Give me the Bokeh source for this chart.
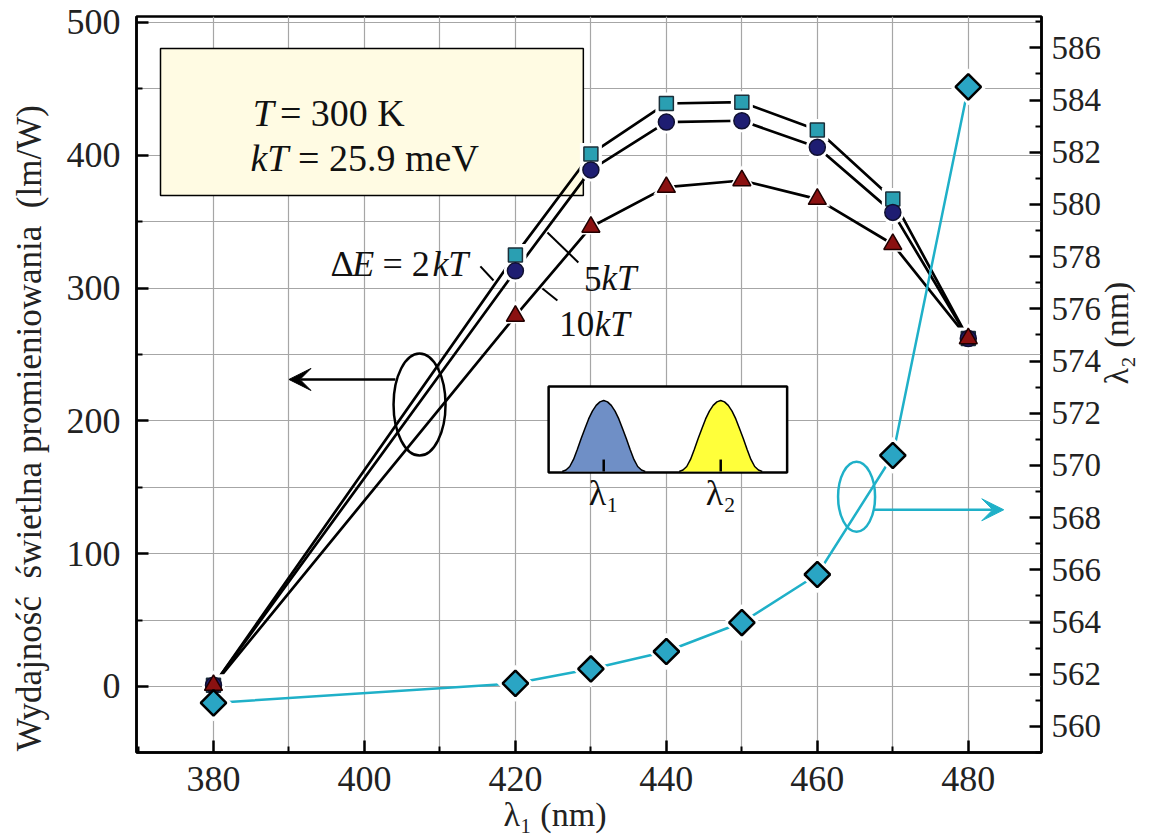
import numpy as np
from bokeh.plotting import figure
from bokeh.models import Range1d, LinearAxis, FixedTicker, Label, Arrow, VeeHead
from bokeh.embed import file_html
from bokeh.resources import INLINE

# ---------------- data ----------------
lambda1 = [380, 420, 430, 440, 450, 460, 470, 480]
eff_2kT = [1, 325, 401, 439, 440, 419, 367, 262]
eff_5kT = [1, 313, 389, 425, 426, 406, 357, 262]
eff_10kT = [1, 279, 346, 376, 381, 367, 333, 262]
lambda2 = [560.9, 561.65, 562.2, 562.87, 563.98, 565.82, 570.38, 584.5]

x_major = [380, 400, 420, 440, 460, 480]
x_minor = [370, 390, 410, 430, 450, 470, 490]
y_major = [0, 100, 200, 300, 400, 500]
y_minor = [-50, 50, 150, 250, 350, 450]
r_major = list(range(560, 587, 2))
r_minor = list(range(559, 588, 2))
x_grid = list(range(380, 490, 10))
y_grid = list(range(0, 501, 50))

# inset schematic spectra: offsets (nm) and relative heights
inset_offsets = [-5.5, -5.0, -4.5, -4.0, -3.5, -3.0, -2.5, -2.0, -1.5, -1.0, -0.5, 0.0,
                 0.5, 1.0, 1.5, 2.0, 2.5, 3.0, 3.5, 4.0, 4.5, 5.0, 5.5]
inset_heights = [0.0, 0.02, 0.07, 0.17, 0.31, 0.46, 0.60, 0.74, 0.85, 0.93, 0.98, 1.0,
                 0.98, 0.93, 0.85, 0.74, 0.60, 0.46, 0.31, 0.17, 0.07, 0.02, 0.0]
inset_centers = [431.7, 447.2]

FONT = "Liberation Serif"
TEAL = "#1fb0c8"
NB = "\u00a0"

p = figure(width=1165, height=838, output_backend="svg", toolbar_location=None,
           x_range=Range1d(369.8, 489.7), y_range=Range1d(-49.7, 504.5),
           min_border_left=136, min_border_right=124, min_border_top=16,
           min_border_bottom=86, background_fill_color="white")
p.extra_y_ranges = {"right": Range1d(559.0, 587.2)}
p.outline_line_color = "black"
p.outline_line_width = 2.5

# grid
p.xgrid.ticker = FixedTicker(ticks=x_grid)
p.ygrid.ticker = FixedTicker(ticks=y_grid)
for g in (p.xgrid, p.ygrid):
    g.grid_line_color = "#a6a6a6"
    g.grid_line_width = 1.2


def style_axis(ax, size, standoff):
    ax.axis_line_color = "black"
    ax.axis_line_width = 2.5
    ax.major_tick_in = 12
    ax.major_tick_out = 0
    ax.minor_tick_in = 6
    ax.minor_tick_out = 0
    ax.major_tick_line_width = 2.5
    ax.minor_tick_line_width = 2
    ax.major_label_text_font = FONT
    ax.major_label_text_font_size = size
    ax.major_label_text_color = "#222222"
    ax.major_label_standoff = standoff
    ax.axis_label_text_font = FONT
    ax.axis_label_text_font_style = "normal"
    ax.axis_label_text_color = "#222222"


p.xaxis.ticker = FixedTicker(ticks=x_major, minor_ticks=x_minor)
p.yaxis.ticker = FixedTicker(ticks=y_major, minor_ticks=y_minor)
style_axis(p.xaxis[0], "36px", 14)
style_axis(p.yaxis[0], "36px", 16)
p.xaxis[0].axis_label = "λ₁ (nm)" + NB * 8
p.xaxis[0].axis_label_text_font_size = "34px"
p.xaxis[0].axis_label_standoff = 2
p.yaxis[0].axis_label = ("Wydajność" + NB * 2 + "świetlna promieniowania" + NB * 2 + "(lm/W)"
                         + NB * 10)
p.yaxis[0].axis_label_text_font_size = "35px"
p.yaxis[0].axis_label_standoff = 15

rax = LinearAxis(y_range_name="right", ticker=FixedTicker(ticks=r_major, minor_ticks=r_minor))
style_axis(rax, "33px", 10)
rax.axis_label = "λ₂ (nm)"
rax.axis_label_text_font_size = "34px"
rax.axis_label_standoff = 12
try:
    rax.axis_label_orientation = np.pi / 2
except Exception:
    pass
p.add_layout(rax, "right")

# text box
p.quad(left=[372.98], right=[429.0], bottom=[369.7], top=[480.4],
       fill_color="#fffbe3", line_color="black", line_width=1.5)

# inset
p.quad(left=[424.4], right=[456.0], bottom=[161.1], top=[225.9],
       fill_color="white", line_color="black", line_width=2.5)
base, peak = 161.9, 215.4
for c, col in zip(inset_centers, ["#6f8fc6", "#ffff3a"]):
    xs = [c + o for o in inset_offsets]
    ys = [base + h * (peak - base) for h in inset_heights]
    p.varea(x=xs, y1=[base] * len(xs), y2=ys, fill_color=col)
    p.line(xs, ys, line_color="black", line_width=1.5)
    p.segment(x0=[c], y0=[base], x1=[c], y1=[base + 9], line_color="black", line_width=2.5)

# series lines
for ys in (eff_2kT, eff_5kT, eff_10kT):
    p.line(lambda1, ys, line_color="black", line_width=2.7)
p.line(lambda1, lambda2, y_range_name="right", line_color=TEAL, line_width=2.5)

# halos (white gaps around markers)
p.scatter(lambda1, eff_2kT, marker="square", size=22, fill_color="white", line_color=None)
p.scatter(lambda1, eff_5kT, marker="circle", size=23, fill_color="white", line_color=None)
p.scatter(lambda1, eff_10kT, marker="triangle", size=26, fill_color="white", line_color=None)
p.scatter(lambda1, lambda2, y_range_name="right", marker="square", angle=np.pi / 4,
          size=26, fill_color="white", line_color=None)

# markers
p.scatter(lambda1, eff_2kT, marker="square", size=14, fill_color="#2a9fb2",
          line_color="#1b2f3a", line_width=1.5)
p.scatter(lambda1, eff_5kT, marker="circle", size=16, fill_color="#1e1d72",
          line_color="#101030", line_width=1.5)
p.scatter(lambda1, eff_10kT, marker="triangle", size=18, fill_color="#8b1111",
          line_color="#200000", line_width=1.5)
p.scatter(lambda1, lambda2, y_range_name="right", marker="square", angle=np.pi / 4,
          size=18, fill_color="#2aa5c4", line_color="black", line_width=2.5)

# ellipses and arrows
p.ellipse(x=[407.3], y=[212.3], width=52, height=102, width_units="screen",
          height_units="screen", fill_alpha=0, line_color="black", line_width=2.5)
p.add_layout(Arrow(end=VeeHead(size=22, fill_color="black", line_color="black"),
                   x_start=404.1, y_start=231.2, x_end=390.0, y_end=231.2,
                   line_color="black", line_width=2.5))
p.ellipse(x=[465.2], y=[568.8], width=37, height=70, width_units="screen",
          height_units="screen", y_range_name="right", fill_alpha=0,
          line_color=TEAL, line_width=2.5)
p.add_layout(Arrow(end=VeeHead(size=22, fill_color=TEAL, line_color=TEAL),
                   x_start=467.4, y_start=568.3, x_end=484.7, y_end=568.3,
                   y_range_name="right", line_color=TEAL, line_width=2.5))

# leader lines
p.segment(x0=[415.36, 424.24, 423.58], y0=[316.3, 341.9, 299.7],
          x1=[417.1, 428.34, 425.56], y1=[305.7, 319.3, 290.7],
          line_color="black", line_width=2)


def lab(x, y, text, size, style="normal", **kw):
    p.add_layout(Label(x=x, y=y, text=text, text_font=FONT, text_font_size=size,
                       text_font_style=style, text_color="#111111",
                       text_baseline=kw.pop("baseline", "alphabetic"),
                       text_align=kw.pop("align", "left"), **kw))


# box text
lab(385.2, 431.5, "T", "38px", "italic")
lab(388.8, 431.5, "= 300 K", "38px")
lab(384.9, 397.6, "kT", "38px", "italic")
lab(391.2, 397.6, "= 25.9 meV", "38px")

# curve labels
lab(395.5, 318.5, "Δ", "36px")
lab(398.4, 318.5, "E", "36px", "italic")
lab(402.4, 318.5, "= 2", "36px")
lab(409.0, 318.5, "kT", "36px", "italic")
lab(429.1, 307.2, "5", "35px")
lab(431.4, 307.2, "kT", "35px", "italic")
lab(425.8, 272.6, "10", "35px")
lab(430.5, 272.6, "kT", "35px", "italic")

# inset labels
lab(431.7, 146.0, "λ₁", "36px", align="center", baseline="middle")
lab(447.2, 146.0, "λ₂", "36px", align="center", baseline="middle")

open("out.html", "w").write(file_html(p, INLINE))
